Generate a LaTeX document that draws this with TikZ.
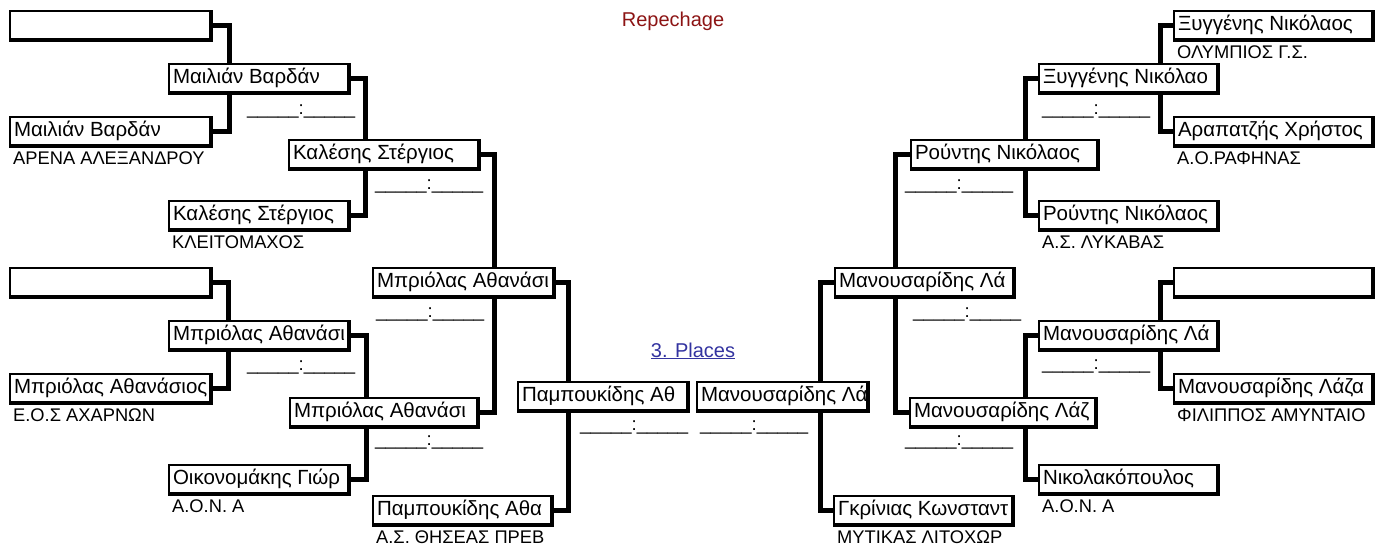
\documentclass[tikz,border=0pt]{standalone}
\usepackage{fontspec}
\setmainfont{Liberation Sans}

\definecolor{repred}{RGB}{140,20,20}
\definecolor{placeblue}{RGB}{51,51,160}

\tikzset{
  player/.style={draw, line width=2pt, fill=white, anchor=north west,
    minimum height=28pt, inner xsep=4pt, inner ysep=0pt,
    text height=15pt, text depth=5pt, font=\fontsize{20.5}{24}\selectfont},
  rim/.style={line width=3pt},
  link/.style={line width=5pt},
  club/.style={anchor=base west, inner sep=0pt, font=\fontsize{18.3}{21}\selectfont},
  score/.style={anchor=base west, inner sep=0pt, font=\fontsize{18.5}{22}\selectfont},
}

\begin{document}
\begin{tikzpicture}[x=1pt, y=-1pt]
  \useasboundingbox (0,0) rectangle (1386,546);

  \foreach \n/\x/\y/\w/\t in {
      e1/9/10/204/{}, c1a/9/116/204/Μαιλιάν Βαρδάν,
      e2/9/267/204/{}, c1b/9/373/204/Μπριόλας Αθανάσιος,
      b2a/168/63/183/Μαιλιάν Βαρδάν, b2b/168/200/183/Καλέσης Στέργιος,
      b2c/168/320/183/Μπριόλας Αθανάσι, b2d/168/464/183/Οικονομάκης Γιώρ,
      b3a/288/139/193/Καλέσης Στέργιος, b3b/289/397/191/Μπριόλας Αθανάσι,
      b4a/372/267/184/Μπριόλας Αθανάσι, b4b/372/495/182/Παμπουκίδης Αθα,
      b5/517/381/173/Παμπουκίδης Αθ,
      r5/696/381/174/Μανουσαρίδης Λά,
      r4a/834/267/182/Μανουσαρίδης Λά, r4b/833/495/182/Γκρίνιας Κωνσταντ,
      r3a/910/139/190/Ρούντης Νικόλαος, r3b/909/397/189/Μανουσαρίδης Λάζ,
      r2a/1038/63/182/Ξυγγένης Νικόλαο, r2b/1038/200/182/Ρούντης Νικόλαος,
      r2c/1038/320/182/Μανουσαρίδης Λά, r2d/1038/464/182/Νικολακόπουλος,
      r1a/1173/10/202/Ξυγγένης Νικόλαος, r1b/1173/116/202/Αραπατζής Χρήστος,
      r1c/1173/267/202/{}, r1d/1173/373/202/Μανουσαρίδης Λάζα}
  {
    \pgfmathsetmacro\tw{\w-12}
    \node[player] (\n) at (\x,\y) {\makebox[\tw pt][l]{\t}};
    \draw[rim] (\n.north east) -- (\n.south east) -- (\n.south west);
  }

  \foreach \a/\b/\d in {e1/b2a.north west/61, c1a/b2a.south west/61,
      e2/b2c.north west/60, c1b/b2c.south west/60,
      b2a/b3a.north west/77, b2b/b3a.south west/77,
      b2c/b3b.north west/77, b2d/b3b.south west/77,
      b3a/b4a.north west/122, b3b/b4a.south west/122,
      b4a/b5.north west/51, b4b/b5.south west/51}
    \draw[link] (\a.east) -| ([xshift=\d pt]\b);

  \foreach \a/\b/\d in {r1a/r2a.north east/58, r1b/r2a.south east/58,
      r1c/r2c.north east/58, r1d/r2c.south east/58,
      r2a/r3a.north east/73, r2b/r3a.south east/73,
      r2c/r3b.north east/71, r2d/r3b.south east/71,
      r3a/r4a.north east/119, r3b/r4a.south east/119,
      r4a/r5.north east/48, r4b/r5.south east/48}
    \draw[link] (\a.west) -| ([xshift=-\d pt]\b);

  \foreach \n/\t in {c1a/ΑΡΕΝΑ ΑΛΕΞΑΝΔΡΟΥ, b2b/ΚΛΕΙΤΟΜΑΧΟΣ, c1b/Ε.Ο.Σ ΑΧΑΡΝΩΝ,
      b2d/Α.Ο.Ν. Α, b4b/Α.Σ. ΘΗΣΕΑΣ ΠΡΕΒ, r4b/ΜΥΤΙΚΑΣ ΛΙΤΟΧΩΡ,
      r2d/Α.Ο.Ν. Α, r1d/ΦΙΛΙΠΠΟΣ ΑΜΥΝΤΑΙΟ, r2b/Α.Σ. ΛΥΚΑΒΑΣ,
      r1b/Α.Ο.ΡΑΦΗΝΑΣ, r1a/ΟΛΥΜΠΙΟΣ Γ.Σ.}
    \node[club] (k\n) at ([shift={(4pt,-18.5pt)}]\n.south west) {\t};

  \foreach \x/\y [count=\i] in {247/114, 247/370, 375/189, 375/445, 376/317,
      580/430, 700/430, 913/317, 905/189, 905/445, 1042/114, 1042/369}
    \node[score] (s\i) at (\x,\y) {\_\_\_\_\_:\_\_\_\_\_};

  \node[anchor=base, text=repred, font=\fontsize{20}{24}\selectfont] (rep) at (673,26) {Repechage};
  \node[anchor=base, text=placeblue, font=\fontsize{20}{24}\selectfont] (places) at (693,357) {\underline{3. Places}};
\end{tikzpicture}
\end{document}
